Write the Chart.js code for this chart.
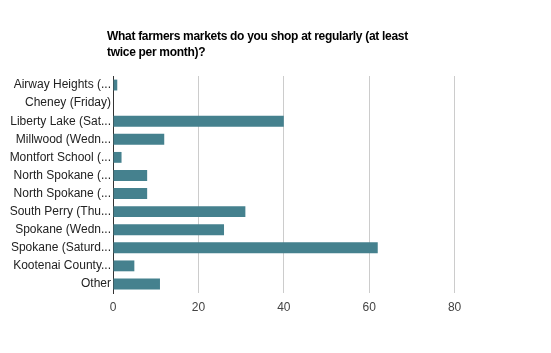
<!DOCTYPE html>
<html>
<head>
<meta charset="utf-8">
<script src="https://cdn.jsdelivr.net/npm/chart.js@4.4.1/dist/chart.umd.min.js"></script>
<style>
    body { margin: 0; background: #fff; }
    #wrap { position: relative; width: 551px; height: 353px; }
    #title {
        position: absolute; left: 107px; top: 28px;
        font: bold 12px Arial, "Liberation Sans", sans-serif;
        letter-spacing: -0.3px;
        line-height: 16px; color: #000;
    }
    canvas { position: absolute; left: 0; top: 0; }
</style>
</head>
<body>
<div id="wrap">
    <canvas id="chart" width="551" height="353"></canvas>
    <div id="title">What farmers markets do you shop at regularly (at least<br>twice per month)?</div>
</div>
<script>
// markets (labels truncated as in the original)
const markets = [
    'Airway Heights (...',
    'Cheney (Friday)',
    'Liberty Lake (Sat...',
    'Millwood (Wedn...',
    'Montfort School (...',
    'North Spokane (...',
    'North Spokane (...',
    'South Perry (Thu...',
    'Spokane (Wedn...',
    'Spokane (Saturd...',
    'Kootenai County...',
    'Other'
];
const shoppers = [1, 0, 40, 12, 2, 8, 8, 31, 26, 62, 5, 11];
const xTicks = [0, 20, 40, 60, 80];
const xMax = 100;

document.addEventListener('DOMContentLoaded', () => {
    Chart.defaults.font.family = 'Arial, "Liberation Sans", sans-serif';
    Chart.defaults.font.size = 12;

    new Chart(document.getElementById('chart'), {
        type: 'bar',
        data: {
            labels: markets,
            datasets: [{
                data: shoppers,
                backgroundColor: '#45818e',
                categoryPercentage: 1,
                barPercentage: 0.6
            }]
        },
        options: {
            indexAxis: 'y',
            responsive: false,
            animation: false,
            layout: { padding: { top: 76, right: 11, bottom: 0, left: 0 } },
            plugins: {
                legend: { display: false },
                tooltip: { enabled: false }
            },
            scales: {
                x: {
                    min: 0,
                    max: xMax,
                    afterFit: (scale) => { scale.height = 60; },
                    afterBuildTicks: (scale) => {
                        scale.ticks = xTicks.concat([xMax]).map(v => ({ value: v }));
                    },
                    border: { display: false },
                    grid: {
                        drawTicks: false,
                        color: (ctx) => (ctx.tick && (ctx.tick.value === 0 || ctx.tick.value === xMax)) ? 'rgba(0,0,0,0)' : '#cccccc'
                    },
                    ticks: {
                        padding: 7,
                        color: '#444',
                        callback: (v) => xTicks.includes(v) ? String(v) : ''
                    }
                },
                y: {
                    afterFit: (scale) => { scale.width = 113; },
                    border: { display: true, color: '#333', width: 1 },
                    grid: { display: false, drawTicks: false },
                    ticks: {
                        padding: 2,
                        color: '#222',
                        autoSkip: false
                    }
                }
            }
        }
    });
});
</script>
</body>
</html>
